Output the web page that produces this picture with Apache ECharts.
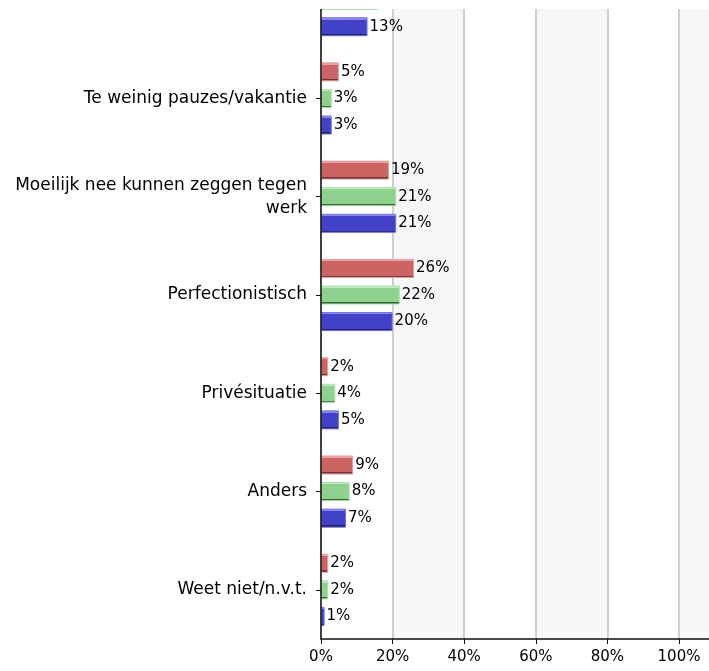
<!DOCTYPE html>
<html>
<head>
<meta charset="utf-8">
<script src="https://cdn.jsdelivr.net/npm/echarts@6/dist/echarts.min.js"></script>
<style>
  html, body { margin: 0; padding: 0; background: #fff; }
  #chart { width: 709px; height: 671px; }
</style>
</head>
<body>
<div id="chart"></div>
<script>
// categorieen (eerste is bovenaan afgesneden)
const categories = [
  "",
  "Te weinig pauzes/vakantie",
  "Moeilijk nee kunnen zeggen tegen\nwerk",
  "Perfectionistisch",
  "Privésituatie",
  "Anders",
  "Weet niet/n.v.t.",
];
// drie reeksen, waarden in %
const redValues = [14, 5, 19, 26, 2, 9, 2];
const greenValues = [16, 3, 21, 22, 4, 8, 2];
const blueValues = [13, 3, 21, 20, 5, 7, 1];
const tickValues = [0, 20, 40, 60, 80, 100];

const FONT = "DejaVu Sans";

function bevel(light, main, dark) {
  return {
    type: "linear",
    x: 0, y: 0, x2: 0, y2: 1,
    colorStops: [
      { offset: 0, color: light },
      { offset: 0.12, color: light },
      { offset: 0.12, color: main },
      { offset: 0.88, color: main },
      { offset: 0.88, color: dark },
      { offset: 1, color: dark },
    ],
  };
}

function makeSeries(name, data, fill, border) {
  return {
    name: name,
    type: "bar",
    data: data,
    barWidth: 19,
    barGap: "40%",
    itemStyle: {
      color: fill,
      borderColor: border,
      borderWidth: 1,
    },
    label: {
      show: true,
      position: "right",
      distance: 2,
      formatter: "{c}%",
      color: "#000",
      fontFamily: FONT,
      fontSize: 15,
    },
  };
}

const chart = echarts.init(document.getElementById("chart"));

const option = {
  animation: false,
  grid: {
    left: 321,
    top: -49,
    width: 429.6,
    height: 688,
    outerBoundsMode: "none",
    containLabel: false,
  },
  xAxis: {
    type: "value",
    min: 0,
    max: 120,
    interval: 20,
    axisLine: { show: true, lineStyle: { color: "#111", width: 1.5 } },
    axisTick: { show: true, length: 5, lineStyle: { color: "#111" } },
    axisLabel: {
      color: "#000",
      fontFamily: FONT,
      fontSize: 15,
      margin: 11,
      formatter: (v) => (tickValues.indexOf(v) >= 0 ? v + "%" : ""),
    },
    splitLine: { show: true, lineStyle: { color: "#cfcfcf", width: 2 } },
    splitArea: { show: true, areaStyle: { color: ["#ffffff", "#f7f7f7"] } },
  },
  yAxis: {
    type: "category",
    data: categories,
    inverse: true,
    z: 5,
    axisLine: { show: true, lineStyle: { color: "#111", width: 1.5 } },
    axisTick: { show: true, alignWithLabel: true, length: 5, lineStyle: { color: "#111" } },
    axisLabel: {
      color: "#000",
      fontFamily: FONT,
      fontSize: 17,
      margin: 14,
      align: "right",
      lineHeight: 23,
      interval: 0,
    },
    splitLine: { show: false },
  },
  series: [
    makeSeries("Reeks 1", redValues, bevel("#e8a4a4", "#cc6464", "#6e3434"), "#e2a0a0"),
    makeSeries("Reeks 2", greenValues, bevel("#c4ecc4", "#8fd18f", "#356635"), "#a8e0a8"),
    makeSeries("Reeks 3", blueValues, bevel("#8c8ce8", "#4242c8", "#20206a"), "#7070e0"),
  ],
  graphic: [
    {
      type: "rect",
      left: 0,
      top: 0,
      z: 100,
      shape: { width: 709, height: 9 },
      style: { fill: "#fff" },
    },
  ],
};

chart.setOption(option);
</script>
</body>
</html>
